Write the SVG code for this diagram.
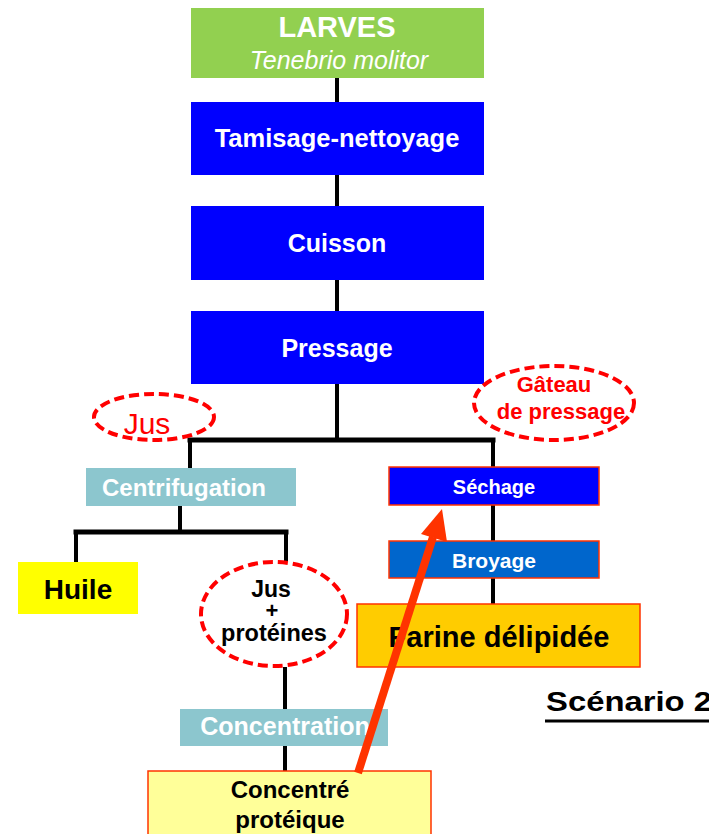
<svg xmlns="http://www.w3.org/2000/svg" width="709" height="834" viewBox="0 0 709 834">
  <style>
    text { font-family: "Liberation Sans", Arial, sans-serif; text-anchor: middle; font-weight: bold; }
    text.plain { font-weight: normal; }
    text.ital { font-weight: normal; font-style: italic; }
    .w { fill: #FFFFFF; }
    .k { fill: #000000; }
    .r { fill: #FF0000; }
    .step { fill: #0000FF; }
    .sep { fill: #8CC6CE; }
    .edge { stroke: #FF3300; stroke-width: 1.5; }
    .oval { fill: none; stroke: #FF0000; stroke-width: 4; stroke-dasharray: 10 5; }
    .link { stroke: #000000; stroke-width: 4; fill: none; }
    .bar { stroke: #000000; stroke-width: 5; fill: none; stroke-linecap: square; }
  </style>

  <rect width="709" height="834" fill="#FFFFFF"/>

  <!-- connectors -->
  <g id="connectors">
    <line class="link" x1="337" y1="78" x2="337" y2="102"/>
    <line class="link" x1="337" y1="175" x2="337" y2="206"/>
    <line class="link" x1="337" y1="280" x2="337" y2="311"/>
    <line class="link" x1="337" y1="384" x2="337" y2="440" stroke-width="3"/>
    <line class="bar" x1="190" y1="440" x2="493" y2="440"/>
    <line class="link" x1="190" y1="440" x2="190" y2="468"/>
    <line class="link" x1="493" y1="440" x2="493" y2="467"/>
    <line class="link" x1="180" y1="506" x2="180" y2="532"/>
    <line class="bar" x1="76" y1="532" x2="286" y2="532"/>
    <line class="link" x1="76" y1="532" x2="76" y2="562"/>
    <line class="link" x1="286" y1="532" x2="286" y2="561"/>
    <line class="link" x1="493" y1="505" x2="493" y2="541"/>
    <line class="link" x1="493" y1="578" x2="493" y2="604"/>
    <line class="link" x1="285" y1="667" x2="285" y2="709"/>
    <line class="link" x1="285" y1="746" x2="285" y2="771"/>
  </g>

  <g id="larves">
    <rect x="191" y="8" width="293" height="70" fill="#92D050"/>
    <text x="337" y="37" class="w" font-size="29">LARVES</text>
    <text x="339" y="69" class="w ital" font-size="25">Tenebrio molitor</text>
  </g>

  <g id="tamisage">
    <rect x="191" y="102" width="293" height="73" class="step"/>
    <text x="337" y="147" class="w" font-size="25.5">Tamisage-nettoyage</text>
  </g>

  <g id="cuisson">
    <rect x="191" y="206" width="293" height="74" class="step"/>
    <text x="337" y="252" class="w" font-size="25">Cuisson</text>
  </g>

  <g id="pressage">
    <rect x="191" y="311" width="293" height="73" class="step"/>
    <text x="337" y="357" class="w" font-size="25">Pressage</text>
  </g>

  <g id="jus">
    <ellipse cx="154" cy="417" rx="60" ry="23" class="oval"/>
    <text x="147" y="434" class="r plain" font-size="30">Jus</text>
  </g>

  <g id="gateau">
    <ellipse cx="554" cy="403" rx="80" ry="37" class="oval"/>
    <text x="554" y="392" class="r" font-size="22">Gâteau</text>
    <text x="561" y="419" class="r" font-size="22">de pressage</text>
  </g>

  <g id="centrifugation">
    <rect x="86" y="468" width="210" height="38" class="sep"/>
    <text x="184" y="496" class="w" font-size="24">Centrifugation</text>
  </g>

  <g id="sechage">
    <rect x="389" y="467" width="210" height="38" class="step edge"/>
    <text x="494" y="494" class="w" font-size="20">Séchage</text>
  </g>

  <g id="broyage">
    <rect x="389" y="541" width="210" height="37" fill="#0066CC" class="edge"/>
    <text x="494" y="568" class="w" font-size="21">Broyage</text>
  </g>

  <g id="huile">
    <rect x="18" y="562" width="120" height="52" fill="#FFFF00"/>
    <text x="78" y="599" class="k" font-size="28">Huile</text>
  </g>

  <g id="jus-proteines">
    <ellipse cx="274" cy="614" rx="73" ry="52" class="oval"/>
    <text x="271" y="597" class="k" font-size="23">Jus</text>
    <text x="272" y="618" class="k" font-size="22">+</text>
    <text x="274" y="641" class="k" font-size="23.5">protéines</text>
  </g>

  <g id="farine">
    <rect x="357" y="604" width="283" height="63" fill="#FFCC00" class="edge"/>
    <text x="499" y="647" class="k" font-size="29">Farine délipidée</text>
  </g>

  <g id="concentration">
    <rect x="180" y="709" width="208" height="37" class="sep"/>
    <text x="285" y="735" class="w" font-size="25">Concentration</text>
  </g>

  <g id="concentre">
    <rect x="148" y="771" width="283" height="70" fill="#FFFF99" class="edge"/>
    <text x="290" y="798" class="k" font-size="24">Concentré</text>
    <text x="290" y="828" class="k" font-size="24">protéique</text>
  </g>

  <g id="scenario">
    <text x="546" y="711" class="k" font-size="28" style="text-anchor:start" textLength="166" lengthAdjust="spacingAndGlyphs">Scénario 2</text>
    <line x1="545" y1="721" x2="709" y2="721" stroke="#000000" stroke-width="3"/>
  </g>

  <!-- return arrow from the protein concentrate up to drying -->
  <g id="recycle">
    <line x1="358" y1="773" x2="433" y2="537" stroke="#FF3300" stroke-width="8"/>
    <polygon points="442,509 421,534 447,542" fill="#FF3300"/>
  </g>
</svg>
